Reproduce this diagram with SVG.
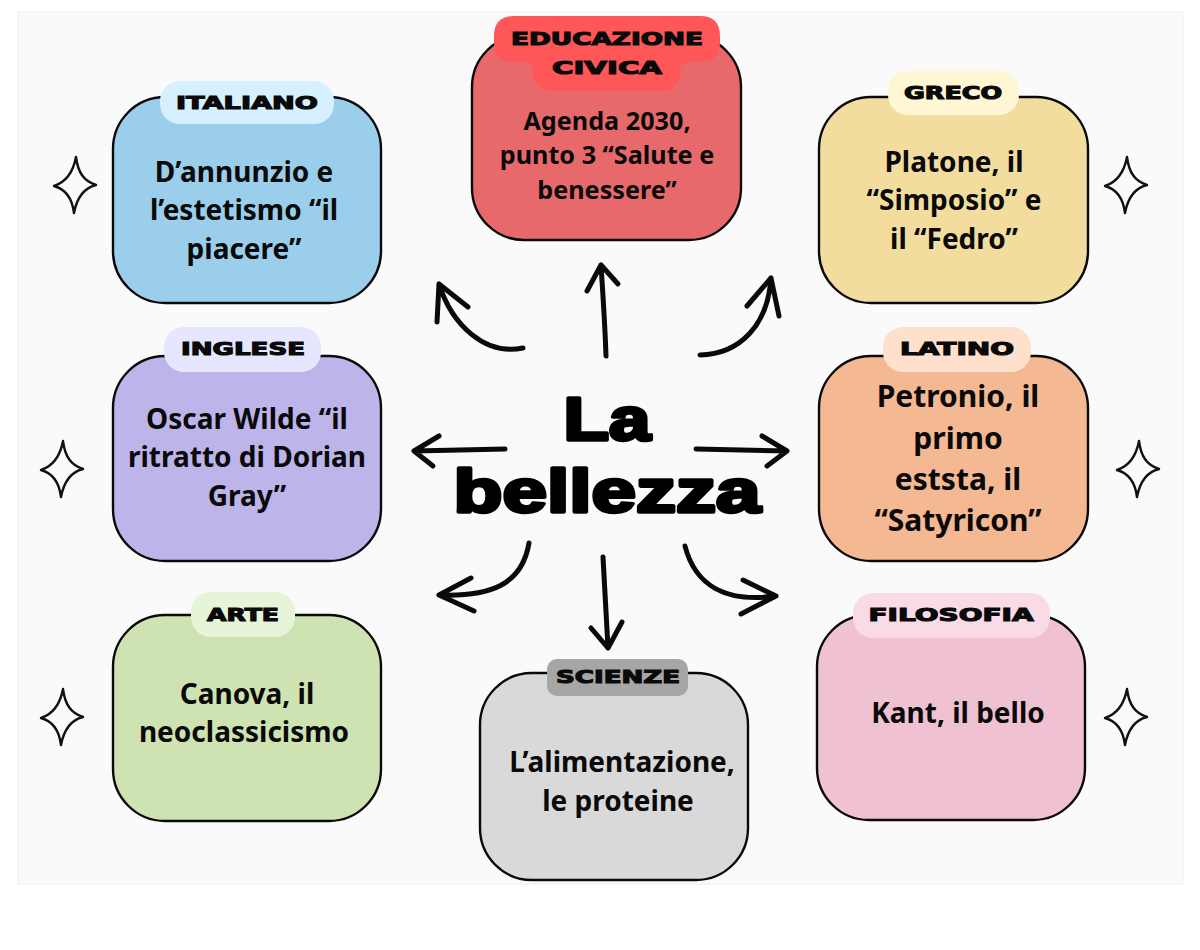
<svg xmlns="http://www.w3.org/2000/svg" width="1200" height="950" viewBox="0 0 1200 950">
<style>
.box{stroke:#0a0a0a;stroke-width:2.4}
.body{font-family:"Noto Sans","Open Sans",sans-serif;font-weight:700;font-size:28px;fill:#0a0a0a;text-anchor:middle}
.edu{font-size:25.2px}
.lat{font-size:30px}
.tag{font-family:"DejaVu Sans",sans-serif;font-weight:700;font-size:17px;fill:#0a0a0a;stroke:#0a0a0a;stroke-width:1.1;text-anchor:middle}
.title{font-family:"Liberation Sans",Arial,sans-serif;font-weight:700;font-size:62px;fill:#000;stroke:#000;stroke-width:3.6;stroke-linejoin:round;text-anchor:middle}
.arrow{fill:none;stroke:#0a0a0a;stroke-width:5;stroke-linecap:round;stroke-linejoin:round}
.star{fill:none;stroke:#111;stroke-width:2.4;stroke-linejoin:round}
</style>
<defs>
<path id="s" class="star" d="M1-28C3-12 9-4 21 0 9 3 2 12-1 28-3 12-10 4-21 1-9-3-2-12 1-28Z"/>
</defs>
<rect width="1200" height="950" fill="#fff"/>
<rect x="18" y="12" width="1165" height="872" fill="#fafafa" stroke="#eeeeee" stroke-width="1"/>
<g id="connectors" class="arrow">
<path d="M523 348C485 356 452 325 439 284M439 284L437 322M439 284L468 307"/>
<path d="M606 356C605 325 603 295 601 265M601 265L587 291M601 265L618 284"/>
<path d="M700 355C740 354 768 325 771 278M771 278L747 306M771 278L779 316"/>
<path d="M505 449L414 451M414 451L439 436M414 451L433 466"/>
<path d="M696 449L787 451M787 451L762 436M787 451L767 466"/>
<path d="M529 543C522 585 490 597 439 595M439 595L471 578M439 595L474 611"/>
<path d="M603 557L608 648M608 648L591 628M608 648L622 622"/>
<path d="M685 546C695 585 725 603 776 596M776 596L743 580M776 596L741 614"/>
</g>
<g id="title"><text class="title" x="607" y="440" textLength="87" lengthAdjust="spacingAndGlyphs">La</text><text class="title" x="607" y="512" textLength="307" lengthAdjust="spacingAndGlyphs">bellezza</text></g>
<g id="italiano"><rect class="box" x="113" y="97" width="268" height="206" rx="52" fill="#9bceea"/><rect x="160" y="81" width="174" height="43" rx="20" fill="#d6f0ff"/><text class="tag" x="247" y="109" textLength="142" lengthAdjust="spacingAndGlyphs">ITALIANO</text><text class="body" x="244" y="182">D’annunzio e</text><text class="body" x="244" y="220">l’estetismo “il</text><text class="body" x="244" y="259">piacere”</text></g>
<g id="educazione-civica"><rect class="box" x="472" y="35" width="269" height="205" rx="52" fill="#e8696b"/><path d="M514 16H700Q720 16 720 36V42Q720 62 700 62H690Q680 62 680 72V71Q680 91 660 91H553Q533 91 533 71V72Q533 62 523 62H514Q494 62 494 42V36Q494 16 514 16Z" fill="#ff5757"/><text class="tag" x="607" y="45" textLength="192" lengthAdjust="spacingAndGlyphs">EDUCAZIONE</text><text class="tag" x="607" y="74" textLength="110" lengthAdjust="spacingAndGlyphs">CIVICA</text><text class="body edu" x="607" y="130">Agenda 2030,</text><text class="body edu" x="607" y="164">punto 3 “Salute e</text><text class="body edu" x="607" y="199">benessere”</text></g>
<g id="greco"><rect class="box" x="819" y="97" width="269" height="206" rx="52" fill="#f3dd9e"/><rect x="888" y="71" width="131" height="44" rx="20" fill="#fff6d3"/><text class="tag" x="953" y="99" textLength="98" lengthAdjust="spacingAndGlyphs">GRECO</text><text class="body" x="954" y="172">Platone, il</text><text class="body" x="954" y="210">“Simposio” e</text><text class="body" x="954" y="249">il “Fedro”</text></g>
<g id="inglese"><rect class="box" x="113" y="356" width="268" height="205" rx="52" fill="#bdb4ea"/><rect x="164" y="327" width="157" height="45" rx="20" fill="#e6e6ff"/><text class="tag" x="243" y="355" textLength="124" lengthAdjust="spacingAndGlyphs">INGLESE</text><text class="body" x="247" y="429">Oscar Wilde “il</text><text class="body" x="247" y="467">ritratto di Dorian</text><text class="body" x="247" y="506">Gray”</text></g>
<g id="latino"><rect class="box" x="819" y="356" width="269" height="205" rx="52" fill="#f4b893"/><rect x="883" y="327" width="148" height="45" rx="20" fill="#ffe0cc"/><text class="tag" x="957" y="355" textLength="114" lengthAdjust="spacingAndGlyphs">LATINO</text><text class="body lat" x="958" y="407">Petronio, il</text><text class="body lat" x="958" y="449">primo</text><text class="body lat" x="958" y="490">eststa, il</text><text class="body lat" x="958" y="531">“Satyricon”</text></g>
<g id="arte"><rect class="box" x="113" y="615" width="268" height="206" rx="52" fill="#cfe3b2"/><rect x="191" y="592" width="104" height="45" rx="20" fill="#e6f5d8"/><text class="tag" x="243" y="621" textLength="72" lengthAdjust="spacingAndGlyphs">ARTE</text><text class="body" x="247" y="704">Canova, il</text><text class="body" x="244" y="742">neoclassicismo</text></g>
<g id="scienze"><rect class="box" x="480" y="673" width="268" height="207" rx="52" fill="#d9d9d9"/><rect x="547" y="659" width="141" height="37" rx="10" fill="#a6a6a6"/><text class="tag" x="618" y="683" textLength="124" lengthAdjust="spacingAndGlyphs">SCIENZE</text><text class="body" x="622" y="772">L’alimentazione,</text><text class="body" x="618" y="811">le proteine</text></g>
<g id="filosofia"><rect class="box" x="817" y="615" width="268" height="205" rx="52" fill="#efc1d2"/><rect x="853" y="593" width="197" height="45" rx="20" fill="#f9dbe8"/><text class="tag" x="951" y="621" textLength="165" lengthAdjust="spacingAndGlyphs">FILOSOFIA</text><text class="body" x="958" y="723">Kant, il bello</text></g>
<g id="stars"><use href="#s" x="75" y="185"/><use href="#s" x="1126" y="185"/><use href="#s" x="62" y="469"/><use href="#s" x="1138" y="469"/><use href="#s" x="62" y="717"/><use href="#s" x="1126" y="717"/></g>
</svg>
